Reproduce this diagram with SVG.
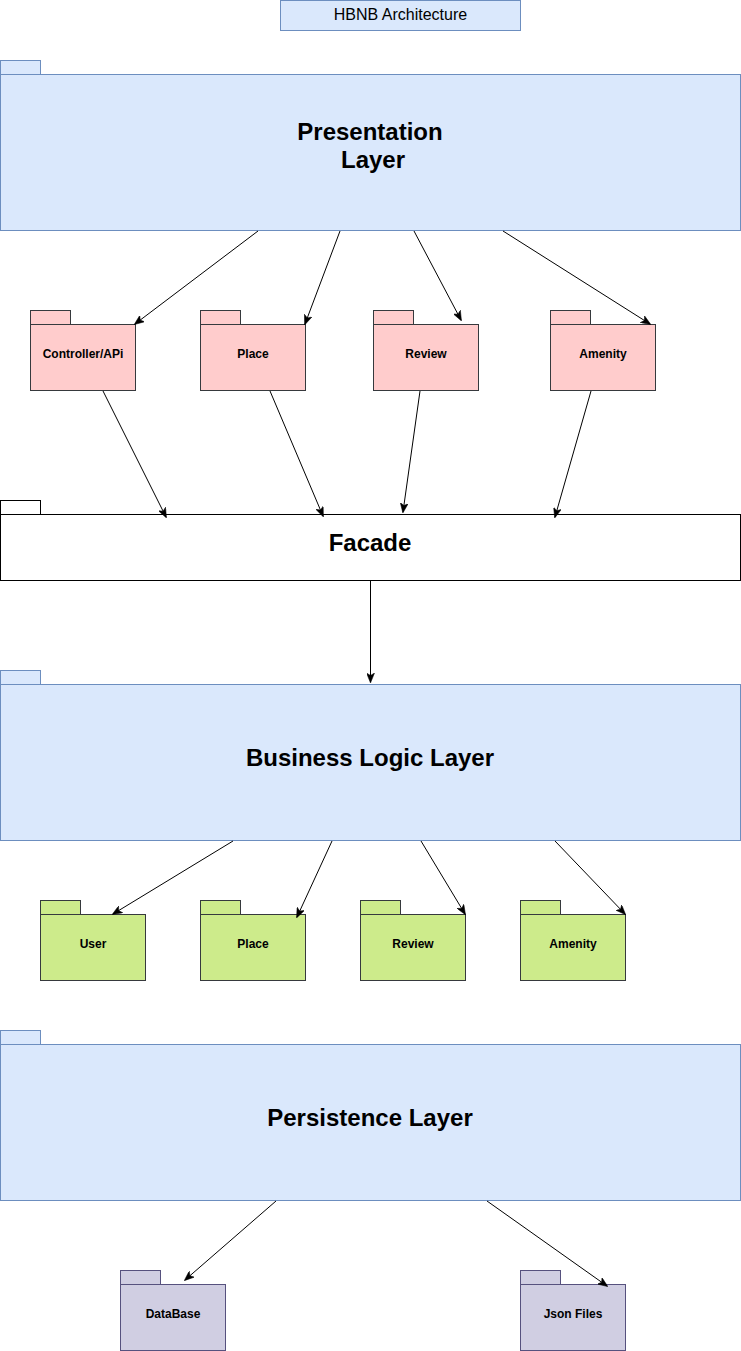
<svg xmlns="http://www.w3.org/2000/svg" width="741" height="1351" viewBox="0 0 741 1351">
<defs>
<style>
.blue{fill:#dae8fc;stroke:#6c8ebf;stroke-width:1}
.red{fill:#ffcccc;stroke:#36393d;stroke-width:1}
.green{fill:#cdeb8b;stroke:#36393d;stroke-width:1}
.purple{fill:#d0cee2;stroke:#56517e;stroke-width:1}
.white{fill:#ffffff;stroke:#000000;stroke-width:1}
.big{font-family:"Liberation Sans",Arial,sans-serif;font-size:24px;font-weight:bold;fill:#000;text-anchor:middle}
.small{font-family:"Liberation Sans",Arial,sans-serif;font-size:12px;font-weight:bold;fill:#000;text-anchor:middle}
.title{font-family:"Liberation Sans",Arial,sans-serif;font-size:16px;fill:#000;text-anchor:middle}
.conn{stroke:#000;stroke-width:1;fill:none;marker-end:url(#arr)}
</style>
<marker id="arr" viewBox="0 0 10 8" refX="9" refY="4" markerWidth="10" markerHeight="8" markerUnits="userSpaceOnUse" orient="auto">
<path d="M0,0 L10,4 L0,8 L2.5,4 z" fill="#000" stroke="#000" stroke-width="0.5"/>
</marker>
</defs>
<g id="title">
<rect class="blue" x="280.5" y="0.5" width="240" height="30"/>
<text class="title" x="400.5" y="20">HBNB Architecture</text>
</g>
<g id="presentation">
<rect class="blue" x="0.5" y="60.5" width="40" height="14"/>
<rect class="blue" x="0.5" y="74.5" width="740" height="156"/>
<text class="big" x="370" y="140">Presentation</text>
<text class="big" x="373" y="168">Layer</text>
</g>
<g id="p-controller">
<rect class="red" x="30.5" y="310.5" width="40" height="14"/>
<rect class="red" x="30.5" y="324.5" width="105" height="66"/>
<text class="small" x="83" y="358">Controller/APi</text>
</g>
<g id="p-place">
<rect class="red" x="200.5" y="310.5" width="40" height="14"/>
<rect class="red" x="200.5" y="324.5" width="105" height="66"/>
<text class="small" x="253" y="358">Place</text>
</g>
<g id="p-review">
<rect class="red" x="373.5" y="310.5" width="40" height="14"/>
<rect class="red" x="373.5" y="324.5" width="105" height="66"/>
<text class="small" x="426" y="358">Review</text>
</g>
<g id="p-amenity">
<rect class="red" x="550.5" y="310.5" width="40" height="14"/>
<rect class="red" x="550.5" y="324.5" width="105" height="66"/>
<text class="small" x="603" y="358">Amenity</text>
</g>
<g id="facade">
<rect class="white" x="0.5" y="500.5" width="40" height="14"/>
<rect class="white" x="0.5" y="514.5" width="740" height="66"/>
<text class="big" x="370" y="551">Facade</text>
</g>
<g id="business">
<rect class="blue" x="0.5" y="670.5" width="40" height="14"/>
<rect class="blue" x="0.5" y="684.5" width="740" height="156"/>
<text class="big" x="370" y="766">Business Logic Layer</text>
</g>
<g id="b-user">
<rect class="green" x="40.5" y="900.5" width="40" height="14"/>
<rect class="green" x="40.5" y="914.5" width="105" height="66"/>
<text class="small" x="93" y="948">User</text>
</g>
<g id="b-place">
<rect class="green" x="200.5" y="900.5" width="40" height="14"/>
<rect class="green" x="200.5" y="914.5" width="105" height="66"/>
<text class="small" x="253" y="948">Place</text>
</g>
<g id="b-review">
<rect class="green" x="360.5" y="900.5" width="40" height="14"/>
<rect class="green" x="360.5" y="914.5" width="105" height="66"/>
<text class="small" x="413" y="948">Review</text>
</g>
<g id="b-amenity">
<rect class="green" x="520.5" y="900.5" width="40" height="14"/>
<rect class="green" x="520.5" y="914.5" width="105" height="66"/>
<text class="small" x="573" y="948">Amenity</text>
</g>
<g id="persistence">
<rect class="blue" x="0.5" y="1030.5" width="40" height="14"/>
<rect class="blue" x="0.5" y="1044.5" width="740" height="156"/>
<text class="big" x="370" y="1126">Persistence Layer</text>
</g>
<g id="d-database">
<rect class="purple" x="120.5" y="1270.5" width="40" height="14"/>
<rect class="purple" x="120.5" y="1284.5" width="105" height="66"/>
<text class="small" x="173" y="1318">DataBase</text>
</g>
<g id="d-json">
<rect class="purple" x="520.5" y="1270.5" width="40" height="14"/>
<rect class="purple" x="520.5" y="1284.5" width="105" height="66"/>
<text class="small" x="573" y="1318">Json Files</text>
</g>
<g id="connectors">
<line class="conn" x1="258" y1="231" x2="135" y2="324"/>
<line class="conn" x1="340" y1="231" x2="305" y2="324"/>
<line class="conn" x1="414" y1="231" x2="461" y2="320"/>
<line class="conn" x1="503" y1="231" x2="650" y2="324"/>
<line class="conn" x1="103" y1="391" x2="166" y2="517"/>
<line class="conn" x1="270" y1="391" x2="323" y2="516"/>
<line class="conn" x1="420" y1="391" x2="403" y2="512"/>
<line class="conn" x1="591" y1="391" x2="555" y2="517"/>
<line class="conn" x1="370.5" y1="581" x2="370.5" y2="682"/>
<line class="conn" x1="233" y1="841" x2="113" y2="914"/>
<line class="conn" x1="332" y1="841" x2="297" y2="917"/>
<line class="conn" x1="421" y1="841" x2="465" y2="914"/>
<line class="conn" x1="555" y1="841" x2="625" y2="914"/>
<line class="conn" x1="276" y1="1201" x2="185" y2="1280"/>
<line class="conn" x1="487" y1="1201" x2="607" y2="1286"/>
</g>
</svg>
